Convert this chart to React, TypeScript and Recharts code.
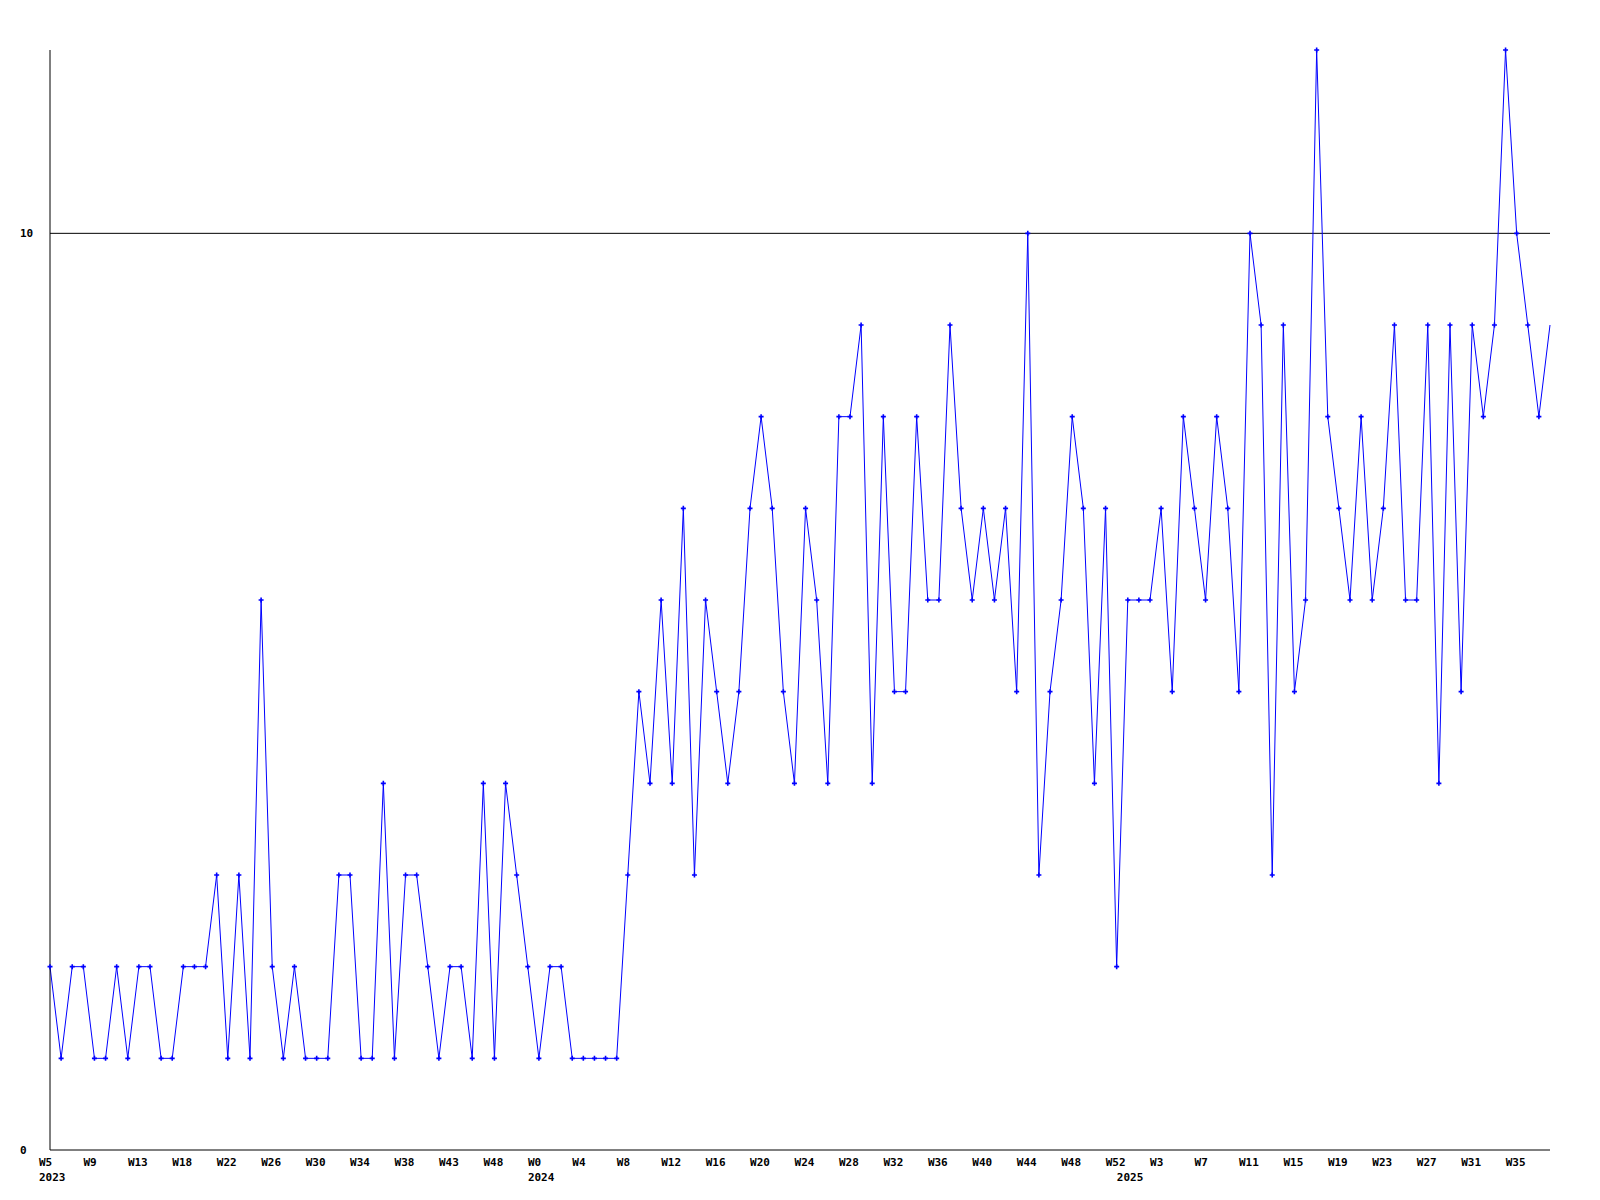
import { LineChart, Line, XAxis, YAxis, ReferenceLine } from 'recharts';

// weekly counts, first point is W5 2023
const values = [
  2, 1, 2, 2, 1, 1, 2, 1, 2, 2, 1, 1, 2, 2, 2, 3, 1, 3, 1, 6,
  2, 1, 2, 1, 1, 1, 3, 3, 1, 1, 4, 1, 3, 3, 2, 1, 2, 2, 1, 4,
  1, 4, 3, 2, 1, 2, 2, 1, 1, 1, 1, 1, 3, 5, 4, 6, 4, 7, 3, 6,
  5, 4, 5, 7, 8, 7, 5, 4, 7, 6, 4, 8, 8, 9, 4, 8, 5, 5, 8, 6,
  6, 9, 7, 6, 7, 6, 7, 5, 10, 3, 5, 6, 8, 7, 4, 7, 2, 6, 6, 6,
  7, 5, 8, 7, 6, 8, 7, 5, 10, 9, 3, 9, 5, 6, 12, 8, 7, 6, 8, 6,
  7, 9, 6, 6, 9, 4, 9, 5, 9, 8, 9, 12, 10, 9, 8, 9,
];

// one label on every 4th week
const weekTickLabels = [
  'W5', 'W9', 'W13', 'W18', 'W22', 'W26', 'W30', 'W34', 'W38', 'W43', 'W48',
  'W0', 'W4', 'W8', 'W12', 'W16', 'W20', 'W24', 'W28', 'W32', 'W36', 'W40', 'W44', 'W48', 'W52',
  'W3', 'W7', 'W11', 'W15', 'W19', 'W23', 'W27', 'W31', 'W35',
];

const yearLabels = ['2023', '2024', '2025'];
const yearStartIndex = [0, 44, 97];

const yTicks = [0, 10];

const data = values.map((v, i) => ({ i, v }));
const lastIndex = values.length - 1;

const weekTickIndex = weekTickLabels.map((_, k) => k * 4);
const xTicks = Array.from(new Set([...weekTickIndex, ...yearStartIndex])).sort((a, b) => a - b);

const FONT = '"DejaVu Sans Mono", monospace';

function XTick(props: any) {
  const { x, y, payload } = props;
  const idx = payload.value as number;
  const w = weekTickIndex.indexOf(idx);
  const yr = yearStartIndex.indexOf(idx);
  return (
    <g>
      {w >= 0 && (
        <text x={x - 11} y={y + 16} textAnchor="start" fontFamily={FONT} fontWeight="bold" fontSize={11} fill="#000">
          {weekTickLabels[w]}
        </text>
      )}
      {yr >= 0 && (
        <text x={x - 11} y={y + 31} textAnchor="start" fontFamily={FONT} fontWeight="bold" fontSize={11} fill="#000">
          {yearLabels[yr]}
        </text>
      )}
    </g>
  );
}

function YTick(props: any) {
  const { x, y, payload } = props;
  return (
    <text x={x - 30} y={y + 4} textAnchor="start" fontFamily={FONT} fontWeight="bold" fontSize={11} fill="#000">
      {payload.value}
    </text>
  );
}

function PlusDot(props: any) {
  const { cx, cy, index } = props;
  if (index === lastIndex || cx == null || cy == null) return <g key={`d${index}`} />;
  return (
    <path
      key={`d${index}`}
      d={`M${cx - 2.5},${cy}H${cx + 2.5}M${cx},${cy - 2.5}V${cy + 2.5}`}
      stroke="#0000ff"
      strokeWidth={1.6}
      fill="none"
    />
  );
}

export default function App() {
  return (
    <div style={{ position: 'absolute', left: 0, top: 0, width: 1600, height: 1200, background: '#fff' }}>
      <LineChart width={1600} height={1200} data={data} margin={{ top: 50, right: 50, bottom: 20, left: 20 }}>
        <XAxis
          dataKey="i"
          type="number"
          domain={[0, lastIndex]}
          ticks={xTicks}
          interval={0}
          tick={<XTick />}
          tickLine={false}
          tickSize={0}
          tickMargin={0}
          height={30}
          axisLine={{ stroke: '#000', strokeWidth: 1 }}
        />
        <YAxis
          type="number"
          domain={[0, 12]}
          ticks={yTicks}
          interval={0}
          tick={<YTick />}
          tickLine={false}
          tickSize={0}
          tickMargin={0}
          width={30}
          axisLine={{ stroke: '#000', strokeWidth: 1 }}
        />
        <ReferenceLine y={10} stroke="#000" strokeWidth={1} />
        <Line
          type="linear"
          dataKey="v"
          stroke="#0000ff"
          strokeWidth={1}
          dot={PlusDot}
          activeDot={false}
          isAnimationActive={false}
        />
      </LineChart>
    </div>
  );
}
